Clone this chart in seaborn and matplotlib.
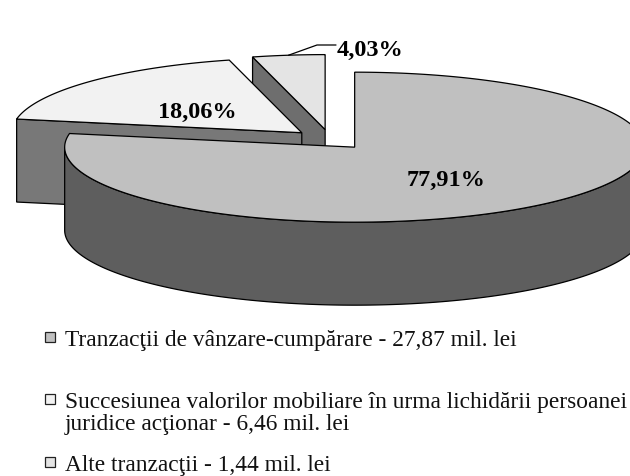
import numpy as np
import matplotlib
matplotlib.use("Agg")
import matplotlib.pyplot as plt
import seaborn as sns

# ---------------- data ----------------
categories = [
    "Tranzacţii de vânzare-cumpărare",
    "Succesiunea valorilor mobiliare în urma lichidării persoanei juridice acţionar",
    "Alte tranzacţii",
]
values_mil_lei = [27.87, 6.46, 1.44]
value_labels = ["27,87 mil. lei", "6,46 mil. lei", "1,44 mil. lei"]
share_labels = ["77,91%", "18,06%", "4,03%"]

# ---------------- style ----------------
sns.set_style("white")
plt.rcParams["font.family"] = ["Liberation Serif", "DejaVu Serif"]

top_colors = ["#c0c0c0", "#f2f2f2", "#e4e4e4"]
side_colors = ["#5e5e5e", "#787878", "#6e6e6e"]
edge = "black"
lw = 0.9

fig = plt.figure(figsize=(6.3, 4.77), dpi=100)
ax = fig.add_axes([0, 0, 1, 1])
ax.set_xlim(0, 630)
ax.set_ylim(477, 0)
ax.axis("off")

# pie geometry (layout)
cx, cy = 330.0, 140.5
a, b = 290.0, 75.0
depth = 83.0
explode = 0.133

fr = np.array(values_mil_lei) / np.sum(values_mil_lei)
cum = np.concatenate([[0], np.cumsum(fr)])
his = 90 - cum[:-1] * 360
los = 90 - cum[1:] * 360


def rim(ox, oy, t, z=0.0):
    r = np.radians(t)
    return ox + a * np.cos(r), oy - b * np.sin(r) + z


slices = []
for i in range(len(fr)):
    lo, hi = los[i], his[i]
    mid = np.radians((lo + hi) / 2)
    ox = cx + explode * a * np.cos(mid)
    oy = cy - explode * b * np.sin(mid)
    slices.append((lo, hi, ox, oy))

# draw back to front: small slice, middle slice, big slice
for i in [2, 1, 0]:
    lo, hi, ox, oy = slices[i]
    # radial faces facing the viewer
    for t, nang in [(hi, hi + 90), (lo, lo - 90)]:
        if np.sin(np.radians(nang)) < -1e-3:
            x0, y0 = rim(ox, oy, t)
            xs = [ox, x0, x0, ox]
            ys = [oy, y0, y0 + depth, oy + depth]
            ax.fill(xs, ys, facecolor=side_colors[i], edgecolor=edge, lw=lw, joinstyle="miter")
    # outer wall (front half)
    for k in range(-2, 2):
        s_lo = max(lo, 180 + 360 * k)
        s_hi = min(hi, 360 + 360 * k)
        if s_lo < s_hi:
            ts = np.linspace(s_lo, s_hi, 200)
            xt, yt = rim(ox, oy, ts)
            xb, yb = rim(ox, oy, ts[::-1], depth)
            ax.fill(np.concatenate([xt, xb]), np.concatenate([yt, yb]),
                    facecolor=side_colors[i], edgecolor=edge, lw=lw)
    # top surface
    ts = np.linspace(lo, hi, 300)
    xt, yt = rim(ox, oy, ts)
    ax.fill(np.concatenate([[ox], xt]), np.concatenate([[oy], yt]),
            facecolor=top_colors[i], edgecolor=edge, lw=lw, joinstyle="miter")

# data labels
lab_font = dict(fontsize=17.5, fontweight="bold", color="black")
ax.text(446, 180, share_labels[0], ha="center", va="center", **lab_font)
ax.text(197, 112, share_labels[1], ha="center", va="center", **lab_font)
ax.text(337, 50, share_labels[2], ha="left", va="center", **lab_font)
# leader line for the small slice
lo, hi, ox, oy = slices[2]
sx, sy = rim(ox, oy, (lo + hi) / 2)
ax.plot([sx, 317, 336], [sy, 46, 46], color="black", lw=0.9)

# legend (manual, Excel-like)
leg_font = dict(fontsize=16.8, color="#111111")
sq = 10
rows = [
    (0, 346, [f"{categories[0]} - {value_labels[0]}"]),
    (1, 408, ["Succesiunea valorilor mobiliare în urma lichidării persoanei",
              f"juridice acţionar - {value_labels[1]}"]),
    (2, 471, [f"{categories[2]} - {value_labels[2]}"]),
]
for idx, base, lines in rows:
    ax.add_patch(plt.Rectangle((45, base - 13), sq, sq, facecolor=top_colors[idx],
                               edgecolor="#222222", lw=0.9))
    for j, line in enumerate(lines):
        ax.text(65, base + 22 * j, line, ha="left", va="baseline", **leg_font)

fig.savefig("out.png", dpi=100)
